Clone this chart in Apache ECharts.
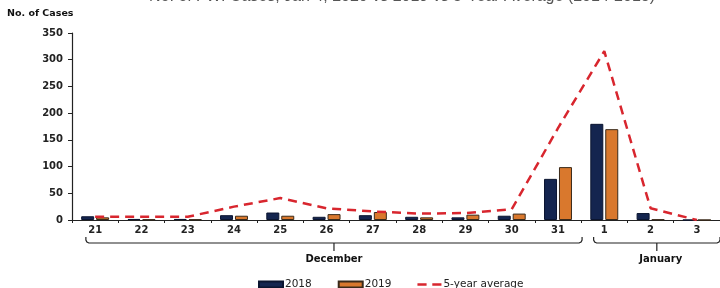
<!DOCTYPE html>
<html>
<head>
<meta charset="utf-8">
<script src="https://cdn.jsdelivr.net/npm/echarts@6/dist/echarts.min.js"></script>
<style>
html,body{margin:0;padding:0;background:#fff;}
#c{width:720px;height:288px;}
</style>
</head>
<body>
<div id="c"></div>
<script>
const categories = ['21','22','23','24','25','26','27','28','29','30','31','1','2','3'];
const cases2018 = [7, 2, 2, 9, 14, 6, 9, 6, 5, 8, 77, 180, 13, 0];
const cases2019 = [5, 1, 1, 8, 8, 11, 15, 5, 10, 12, 99, 170, 1, 0];
const avg5yr   = [6, 6, 6, 25, 41, 22, 16, 12, 13, 20, 172, 316, 22, 0];
const yTicks = [0, 50, 100, 150, 200, 250, 300, 350];
const months = [
  {name:'December', from:'21', to:'31'},
  {name:'January', from:'1', to:'3'}
];
const titleText = 'No. of FWI Cases, Jan 4, 2020 vs 2019 vs 5-Year Average (2014-2018)';

const FONT = '"DejaVu Sans", sans-serif';
const chart = echarts.init(document.getElementById('c'), null, {renderer:'canvas'});

const option = {
  animation: false,
  backgroundColor: '#fff',
  textStyle: {fontFamily: FONT},
  grid: {left: 72, top: 33, width: 651, height: 187, containLabel: false},
  legend: {
    left: 258, top: 279, padding: 0,
    itemWidth: 24, itemHeight: 6, itemGap: 26,
    textStyle: {fontFamily: FONT, fontSize: 10.5, color: '#222', padding: [0,0,0,-3]},
    data: [
      {name: '2018', icon: 'rect'},
      {name: '2019', icon: 'rect'},
      {name: '5-year average', icon: 'path://M0,0H8V2.4H0Z M13,0H21V2.4H13Z', itemStyle: {color: '#d8262e'}}
    ]
  },
  xAxis: {
    type: 'category',
    data: categories,
    boundaryGap: true,
    axisLine: {lineStyle: {color: '#222', width: 1.2}},
    axisTick: {show: true, length: 3, lineStyle: {color: '#222'}},
    axisLabel: {fontFamily: FONT, fontSize: 10, fontWeight: 'bold', color: '#222', margin: 5}
  },
  yAxis: {
    type: 'value',
    min: yTicks[0], max: yTicks[yTicks.length-1], interval: yTicks[1]-yTicks[0],
    name: 'No. of Cases',
    nameLocation: 'end',
    nameGap: 14,
    nameTextStyle: {fontFamily: FONT, fontSize: 9.5, fontWeight: 'bold', color: '#111', align: 'left', padding: [0,0,0,-65]},
    splitLine: {show: false},
    axisLine: {show: true, lineStyle: {color: '#222', width: 1.2}},
    axisTick: {show: true, length: 4, lineStyle: {color: '#222'}},
    axisLabel: {fontFamily: FONT, fontSize: 10, fontWeight: 'bold', color: '#222', margin: 9}
  },
  series: [
    {
      name: '2018', type: 'bar', data: cases2018,
      barWidth: 13, barGap: '15%',
      itemStyle: {color: '#14254f', borderColor: '#0b1530', borderWidth: 1}
    },
    {
      name: '2019', type: 'bar', data: cases2019,
      barWidth: 13, barGap: '15%',
      itemStyle: {color: '#d9782d', borderColor: '#3a2a1a', borderWidth: 1}
    },
    {
      name: '5-year average', type: 'line', data: avg5yr,
      symbol: 'none', smooth: false, z: 5,
      itemStyle: {color: '#d8262e'},
      lineStyle: {color: '#d8262e', width: 2.5, type: [9, 6]}
    }
  ]
};
chart.setOption(option);

function buildBrackets() {
  const xOf = c => chart.convertToPixel({xAxisIndex: 0}, c);
  const base = chart.convertToPixel({yAxisIndex: 0}, 0);
  const step = xOf(categories[1]) - xOf(categories[0]);
  const hY = base + 23, topY = base + 17, tickY = base + 31, labY = base + 39;
  const els = [];
  months.forEach((m, i) => {
    const x1 = i === 0 ? xOf(m.from) - step * 0.2 : xOf(m.from) - step * 0.23;
    const x2 = i === 0 ? xOf(m.to) + step * 0.52 : xOf(m.to) + step * 0.5;
    const xc = (x1 + x2) / 2;
    els.push({
      type: 'polyline', silent: true,
      shape: {points: [[x1, topY], [x1, hY - 3], [x1 + 1, hY - 1], [x1 + 3, hY], [x2 - 3, hY], [x2 - 1, hY - 1], [x2, hY - 3], [x2, topY]]},
      style: {fill: null, stroke: '#222', lineWidth: 1.2}
    });
    els.push({
      type: 'line', silent: true,
      shape: {x1: xc, y1: hY, x2: xc, y2: tickY},
      style: {stroke: '#222', lineWidth: 1.2}
    });
    els.push({
      type: 'text', silent: true,
      x: i === 0 ? xc : xc + 4, y: labY,
      style: {text: m.name, font: 'bold 10px ' + FONT, fill: '#111', align: 'center', verticalAlign: 'middle'}
    });
  });
  els.push({
    type: 'text', silent: true,
    x: 402, y: -11.5,
    style: {text: titleText, font: '16px "Liberation Sans", Arial, sans-serif', fill: '#555', align: 'center', verticalAlign: 'top'}
  });
  chart.setOption({graphic: els});
}
buildBrackets();
</script>
</body>
</html>
